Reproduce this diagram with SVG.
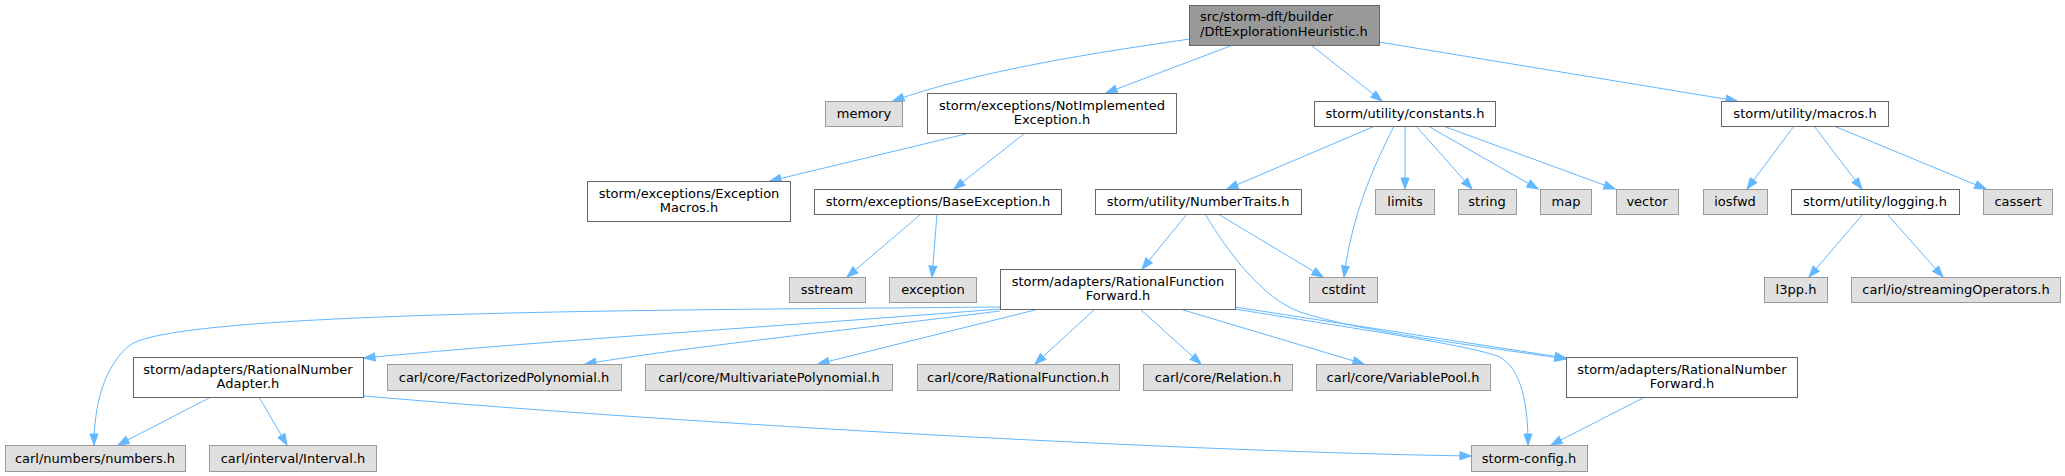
<svg xmlns="http://www.w3.org/2000/svg" width="2065" height="476" viewBox="0 0 2065 476">
<style>
text{font-family:"DejaVu Sans",sans-serif;font-size:13px;fill:#000}
.c{text-anchor:middle}
.w rect{fill:#fff;stroke:#666;stroke-width:1}
.g rect{fill:#e0e0e0;stroke:#999;stroke-width:1}
.r rect{fill:#999;stroke:#666;stroke-width:1}
#edges path{fill:none;stroke:#63b8ff;stroke-width:1;marker-end:url(#a)}
</style>
<defs>
<marker id="a" markerWidth="13" markerHeight="10" refX="12" refY="5" orient="auto" markerUnits="userSpaceOnUse"><path d="M1,1 L12,5 L1,9 z" fill="#63b8ff" stroke="#63b8ff"/></marker>
</defs>
<rect width="2065" height="476" fill="#fff"/>
<g id="edges">
<path d="M1190,39 C1100,52 980,70 893,101"/>
<path d="M1233,45 L1106,93"/>
<path d="M1311,45 L1382,101"/>
<path d="M1379,42 L1737,101"/>
<path d="M970,133 L770,181"/>
<path d="M1025,133 L954,189"/>
<path d="M1375,126 L1227,189"/>
<path d="M1394,126 C1372,170 1352,215 1344,277"/>
<path d="M1405,126 L1405,189"/>
<path d="M1416,126 L1472,189"/>
<path d="M1428,126 L1538,189"/>
<path d="M1443,126 L1615,189"/>
<path d="M1794,126 L1747,189"/>
<path d="M1814,126 L1862,189"/>
<path d="M1834,126 L1986,189"/>
<path d="M921,214 L847,277"/>
<path d="M937,214 L932,277"/>
<path d="M1187,214 L1142,269"/>
<path d="M1218,214 L1323,277"/>
<path d="M1205,214 C1228,252 1262,298 1300,312 C1360,332 1480,346 1566,359"/>
<path d="M1235,307 L1566,358"/>
<path d="M1235,309 C1350,328 1470,345 1500,357 C1522,370 1528,405 1528,445"/>
<path d="M1000,307 C700,310 180,310 130,345 C104,366 94,405 94,445"/>
<path d="M1000,309 C800,325 550,340 364,358"/>
<path d="M1000,311 C850,330 700,345 585,364"/>
<path d="M1039,309 L818,364"/>
<path d="M1095,309 L1035,364"/>
<path d="M1140,309 L1201,364"/>
<path d="M1180,309 L1364,364"/>
<path d="M211,397 L118,445"/>
<path d="M259,397 L287,445"/>
<path d="M364,396 C700,425 1200,452 1471,456"/>
<path d="M1645,397 L1551,445"/>
<path d="M1863,214 L1809,277"/>
<path d="M1887,214 L1943,277"/>
</g>
<g id="n_root" class="r"><rect x="1189.5" y="5.5" width="190" height="40"/><text x="1200" y="21">src/storm-dft/builder</text><text x="1200" y="36">/DftExplorationHeuristic.h</text></g>
<g id="n_memory" class="g"><rect x="825.5" y="101.5" width="77" height="25"/><text class="c" x="864" y="118">memory</text></g>
<g id="n_notimpl" class="w"><rect x="927.5" y="93.5" width="249" height="40"/><text class="c" x="1052" y="109.5">storm/exceptions/NotImplemented</text><text class="c" x="1052" y="124">Exception.h</text></g>
<g id="n_constants" class="w"><rect x="1314.5" y="101.5" width="181" height="25"/><text class="c" x="1405" y="118">storm/utility/constants.h</text></g>
<g id="n_macros" class="w"><rect x="1721.5" y="101.5" width="167" height="25"/><text class="c" x="1805" y="118">storm/utility/macros.h</text></g>
<g id="n_exmacros" class="w"><rect x="587.5" y="181.5" width="203" height="40"/><text class="c" x="689" y="197.5">storm/exceptions/Exception</text><text class="c" x="689" y="212">Macros.h</text></g>
<g id="n_baseexc" class="w"><rect x="814.5" y="189.5" width="247" height="25"/><text class="c" x="938" y="206">storm/exceptions/BaseException.h</text></g>
<g id="n_numtraits" class="w"><rect x="1095.5" y="189.5" width="206" height="25"/><text class="c" x="1198" y="206">storm/utility/NumberTraits.h</text></g>
<g id="n_limits" class="g"><rect x="1375.5" y="189.5" width="59" height="25"/><text class="c" x="1405" y="206">limits</text></g>
<g id="n_string" class="g"><rect x="1458.5" y="189.5" width="58" height="25"/><text class="c" x="1487" y="206">string</text></g>
<g id="n_map" class="g"><rect x="1540.5" y="189.5" width="51" height="25"/><text class="c" x="1566" y="206">map</text></g>
<g id="n_vector" class="g"><rect x="1616.5" y="189.5" width="62" height="25"/><text class="c" x="1647" y="206">vector</text></g>
<g id="n_iosfwd" class="g"><rect x="1703.5" y="189.5" width="64" height="25"/><text class="c" x="1735" y="206">iosfwd</text></g>
<g id="n_logging" class="w"><rect x="1791.5" y="189.5" width="168" height="25"/><text class="c" x="1875" y="206">storm/utility/logging.h</text></g>
<g id="n_cassert" class="g"><rect x="1983.5" y="189.5" width="69" height="25"/><text class="c" x="2018" y="206">cassert</text></g>
<g id="n_sstream" class="g"><rect x="789.5" y="277.5" width="76" height="25"/><text class="c" x="827" y="294">sstream</text></g>
<g id="n_exception" class="g"><rect x="889.5" y="277.5" width="87" height="25"/><text class="c" x="933" y="294">exception</text></g>
<g id="n_rff" class="w"><rect x="1000.5" y="269.5" width="235" height="40"/><text class="c" x="1118" y="285.5">storm/adapters/RationalFunction</text><text class="c" x="1118" y="300">Forward.h</text></g>
<g id="n_cstdint" class="g"><rect x="1309.5" y="277.5" width="68" height="25"/><text class="c" x="1343.5" y="294">cstdint</text></g>
<g id="n_l3pp" class="g"><rect x="1764.5" y="277.5" width="63" height="25"/><text class="c" x="1796" y="294">l3pp.h</text></g>
<g id="n_streaming" class="g"><rect x="1851.5" y="277.5" width="209" height="25"/><text class="c" x="1956" y="294">carl/io/streamingOperators.h</text></g>
<g id="n_rnadapter" class="w"><rect x="133.5" y="357.5" width="230" height="40"/><text class="c" x="248" y="373.5">storm/adapters/RationalNumber</text><text class="c" x="248" y="388">Adapter.h</text></g>
<g id="n_factpoly" class="g"><rect x="387.5" y="364.5" width="234" height="26"/><text class="c" x="504" y="382">carl/core/FactorizedPolynomial.h</text></g>
<g id="n_multipoly" class="g"><rect x="645.5" y="364.5" width="247" height="26"/><text class="c" x="769" y="382">carl/core/MultivariatePolynomial.h</text></g>
<g id="n_ratfunc" class="g"><rect x="917.5" y="364.5" width="202" height="26"/><text class="c" x="1018" y="382">carl/core/RationalFunction.h</text></g>
<g id="n_relation" class="g"><rect x="1143.5" y="364.5" width="149" height="26"/><text class="c" x="1218" y="382">carl/core/Relation.h</text></g>
<g id="n_varpool" class="g"><rect x="1316.5" y="364.5" width="174" height="26"/><text class="c" x="1403" y="382">carl/core/VariablePool.h</text></g>
<g id="n_rnforward" class="w"><rect x="1566.5" y="357.5" width="231" height="40"/><text class="c" x="1682" y="373.5">storm/adapters/RationalNumber</text><text class="c" x="1682" y="388">Forward.h</text></g>
<g id="n_numbers" class="g"><rect x="5.5" y="445.5" width="180" height="26"/><text class="c" x="95" y="463">carl/numbers/numbers.h</text></g>
<g id="n_interval" class="g"><rect x="209.5" y="445.5" width="167" height="26"/><text class="c" x="293" y="463">carl/interval/Interval.h</text></g>
<g id="n_config" class="g"><rect x="1471.5" y="445.5" width="116" height="26"/><text class="c" x="1529" y="463">storm-config.h</text></g>
</svg>
